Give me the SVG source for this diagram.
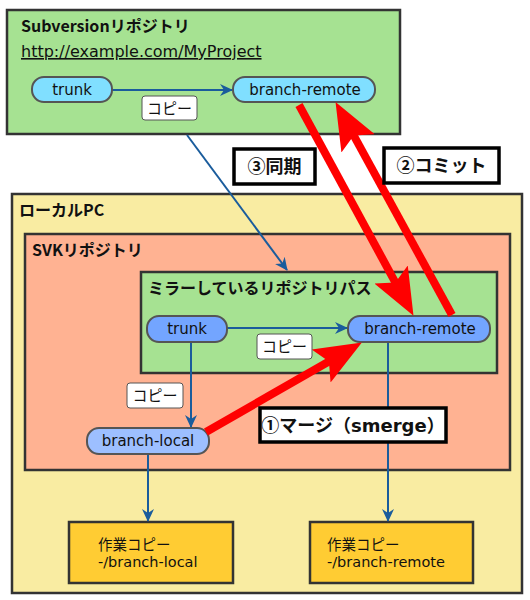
<svg xmlns="http://www.w3.org/2000/svg" width="530" height="600" viewBox="0 0 530 600">
<style>
text{font-family:"Noto Sans CJK JP","DejaVu Sans",sans-serif;fill:#111;}
.lat{font-family:"DejaVu Sans","Noto Sans CJK JP",sans-serif;}
.box{stroke:#333;stroke-width:2.5;}
.title{font-size:16px;font-weight:bold;}
.pill{stroke:#555;stroke-width:2;}
.pt{font-size:15px;text-anchor:middle;font-family:"DejaVu Sans","Noto Sans CJK JP",sans-serif;}
.blue{stroke:#1a5c9c;stroke-width:2;fill:none;}
.red{stroke:#ff0000;stroke-width:8;fill:none;}
.copy{fill:#fff;stroke:#555;stroke-width:1;}
.ct{font-size:15px;text-anchor:middle;}
.lbl{fill:#fff;stroke:#000;stroke-width:3.5;}
.lt{font-size:18px;font-weight:bold;text-anchor:middle;}
.wt{font-size:14.5px;font-family:"DejaVu Sans","Noto Sans CJK JP",sans-serif;}
</style>
<defs>
<marker id="ba" markerUnits="userSpaceOnUse" markerWidth="14" markerHeight="14" viewBox="0 0 14 14" refX="12" refY="7" orient="auto">
<path d="M0,1 L13,7 L0,13 L4,7 z" fill="#1a5c9c"/>
</marker>
<marker id="ra" markerUnits="userSpaceOnUse" markerWidth="48" markerHeight="42" viewBox="0 0 48 42" refX="16" refY="21" orient="auto">
<path d="M0,2 L47,21 L0,40 L9,21 z" fill="#ff0000"/>
</marker>
</defs>

<g id="svn-repo">
<rect class="box" x="7" y="10" width="393" height="124" fill="#a6e292"/>
<text class="title" x="21" y="32" font-size="15">Subversionリポジトリ</text>
<text class="lat" x="21" y="57" font-size="16" text-decoration="underline">http://example.com/MyProject</text>
</g>
<g id="local-pc">
<rect class="box" x="12" y="194" width="510" height="399" fill="#f9eca2"/>
<text class="title" x="19" y="216">ローカルPC</text>
</g>
<g id="svk-repo">
<rect class="box" x="25" y="234" width="485" height="236" fill="#ffb292"/>
<text class="title" x="32" y="256">SVKリポジトリ</text>
</g>
<g id="mirror">
<rect class="box" x="141" y="272" width="356" height="101" fill="#a6e292"/>
<text class="title" x="148" y="294">ミラーしているリポジトリパス</text>
</g>
<g id="wc-local">
<rect class="box" x="69" y="522" width="164" height="61" fill="#ffcc33"/>
<text class="wt" x="98" y="550">作業コピー</text>
<text class="wt" x="98" y="567">-/branch-local</text>
</g>
<g id="wc-remote">
<rect class="box" x="310" y="522" width="163" height="61" fill="#ffcc33"/>
<text class="wt" x="327" y="550">作業コピー</text>
<text class="wt" x="327" y="567">-/branch-remote</text>
</g>

<g id="connectors">
<line class="blue" x1="112" y1="90" x2="232" y2="90" marker-end="url(#ba)"/>
<line class="blue" x1="187" y1="135" x2="287" y2="270" marker-end="url(#ba)"/>
<line class="blue" x1="227" y1="328" x2="347" y2="328" marker-end="url(#ba)"/>
<line class="blue" x1="191" y1="342" x2="191" y2="427" marker-end="url(#ba)"/>
<line class="blue" x1="148" y1="454" x2="148" y2="521" marker-end="url(#ba)"/>
<line class="blue" x1="388" y1="342" x2="388" y2="521" marker-end="url(#ba)"/>
</g>

<g id="svn-trunk">
<rect class="pill" x="32" y="77" width="80" height="25" rx="12" fill="#80dfff"/>
<text class="pt" x="72" y="95">trunk</text>
</g>
<g id="svn-branch-remote">
<rect class="pill" x="233" y="77" width="142" height="25" rx="12" fill="#80dfff"/>
<text class="pt" x="305" y="95">branch-remote</text>
</g>
<g id="svk-trunk">
<rect class="pill" x="147" y="316" width="80" height="26" rx="12" fill="#73a5ff"/>
<text class="pt" x="187" y="334">trunk</text>
</g>
<g id="svk-branch-remote">
<rect class="pill" x="348" y="316" width="142" height="26" rx="12" fill="#73a5ff"/>
<text class="pt" x="420" y="334">branch-remote</text>
</g>
<g id="branch-local">
<rect class="pill" x="87" y="428" width="122" height="26" rx="12" fill="#9dbfff"/>
<text class="pt" x="148" y="446">branch-local</text>
</g>

<g id="red-connectors">
<line class="red" x1="299" y1="105" x2="398.7" y2="288.6" marker-end="url(#ra)"/>
<line class="red" x1="452" y1="315" x2="350.4" y2="129.3" marker-end="url(#ra)"/>
<line class="red" x1="206" y1="432" x2="335" y2="358" marker-end="url(#ra)"/>
</g>

<g id="labels">
<rect class="copy" x="142" y="96" width="55" height="24" rx="3"/>
<text class="ct" x="169.5" y="113.5">コピー</text>
<rect class="copy" x="257" y="334" width="55" height="25" rx="3"/>
<text class="ct" x="284.5" y="352">コピー</text>
<rect class="copy" x="127" y="383" width="56" height="25" rx="3"/>
<text class="ct" x="155" y="401">コピー</text>
<rect class="lbl" x="234" y="149" width="81" height="35"/>
<text class="lt" x="274.5" y="173">③同期</text>
<rect class="lbl" x="384" y="148" width="115" height="35"/>
<text class="lt" x="441.5" y="172">②コミット</text>
<rect class="lbl" x="260" y="408" width="186" height="34"/>
<text class="lt" x="353" y="432" font-size="17.5">①マージ（<tspan font-family="DejaVu Sans, sans-serif">smerge</tspan>）</text>
</g>
</svg>
